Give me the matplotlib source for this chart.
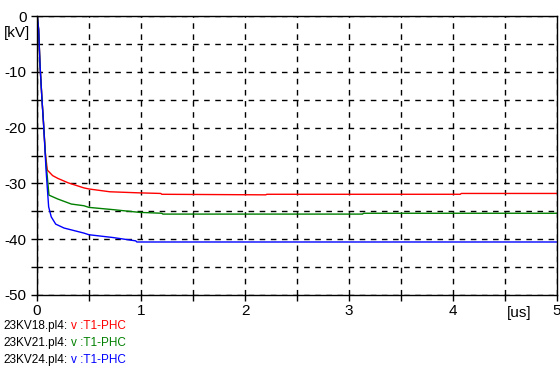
import matplotlib
matplotlib.use("Agg")
import matplotlib.pyplot as plt

plt.rcParams['font.family'] = ['Liberation Sans', 'DejaVu Sans']

# time [us] and voltage [kV]
red_t = [0, 0.005, 0.016, 0.029, 0.048, 0.062, 0.08, 0.099, 0.15, 0.2, 0.3, 0.45, 0.5, 0.7, 0.99,
         1.19, 1.2, 2.2, 2.21, 4.07, 4.08, 5.0]
red_v = [0, -0.3, -2.5, -8.8, -15, -19, -24.5, -27.6, -28.6, -29.1, -29.9, -30.8, -31.0, -31.5, -31.7,
         -31.8, -31.95, -32.05, -31.95, -31.95, -31.8, -31.8]

green_t = [0, 0.005, 0.016, 0.029, 0.048, 0.062, 0.085, 0.1, 0.115, 0.2, 0.33, 0.45, 0.5, 0.73, 0.99,
           1.0, 1.2, 1.21, 3.13, 3.14, 5.0]
green_v = [0, -0.3, -2.5, -8.8, -15, -19, -26, -29, -32.1, -32.8, -33.7, -34.0, -34.3, -34.7, -35.2,
           -35.2, -35.35, -35.5, -35.5, -35.35, -35.35]

blue_t = [0, 0.005, 0.016, 0.029, 0.048, 0.062, 0.087, 0.096, 0.112, 0.137, 0.18, 0.26, 0.45, 0.5,
          0.73, 0.95, 0.96, 5.0]
blue_v = [0, -0.3, -2.5, -8.8, -15, -19, -27.6, -30, -34.2, -36, -37.3, -38, -38.9, -39.2,
          -39.7, -40.3, -40.5, -40.5]

files = ['23KV18.pl4:', '23KV21.pl4:', '23KV24.pl4:']
signal = 'v :T1-PHC'
colors = ['#ff0000', '#008000', '#0000ff']

fig = plt.figure(figsize=(5.6, 3.71), dpi=100)
ax = fig.add_axes([37 / 560, 1 - 295 / 371, 520 / 560, 279 / 371])

ax.plot(red_t, red_v, color=colors[0], lw=1)
ax.plot(green_t, green_v, color=colors[1], lw=1)
ax.plot(blue_t, blue_v, color=colors[2], lw=1)

ax.set_xlim(0, 5)
ax.set_ylim(-50, 0)

xt = [i * 0.5 for i in range(11)]
yt = [-50 + i * 5 for i in range(11)]
ax.set_xticks(xt)
ax.set_xticklabels([str(int(v)) if v == int(v) else '' for v in xt])
ax.set_yticks(yt)
ax.set_yticklabels([str(v) if v % 10 == 0 else '' for v in yt])
ax.tick_params(direction='out', length=4, width=1, color='black', labelsize=11)
ax.tick_params(axis='y', pad=3.5)
ax.tick_params(axis='x', pad=2.5)
ax.grid(True, color='black', linestyle=(0, (4, 4)), linewidth=1)
for s in ax.spines.values():
    s.set_color('black')
    s.set_linewidth(1)

fig.text(30 / 560, 1 - 33 / 371, '[kV]', ha='right', va='center', fontsize=11)
fig.text(519 / 560, 1 - 313 / 371, '[us]', ha='center', va='center', fontsize=11)

for i in range(3):
    y = 1 - (326 + 17 * i) / 371
    fig.text(3 / 560, y, files[i], ha='left', va='center', fontsize=8.5)
    fig.text(71 / 560, y, signal, ha='left', va='center', fontsize=8.5, color=colors[i])

fig.savefig('out.png', dpi=100)
